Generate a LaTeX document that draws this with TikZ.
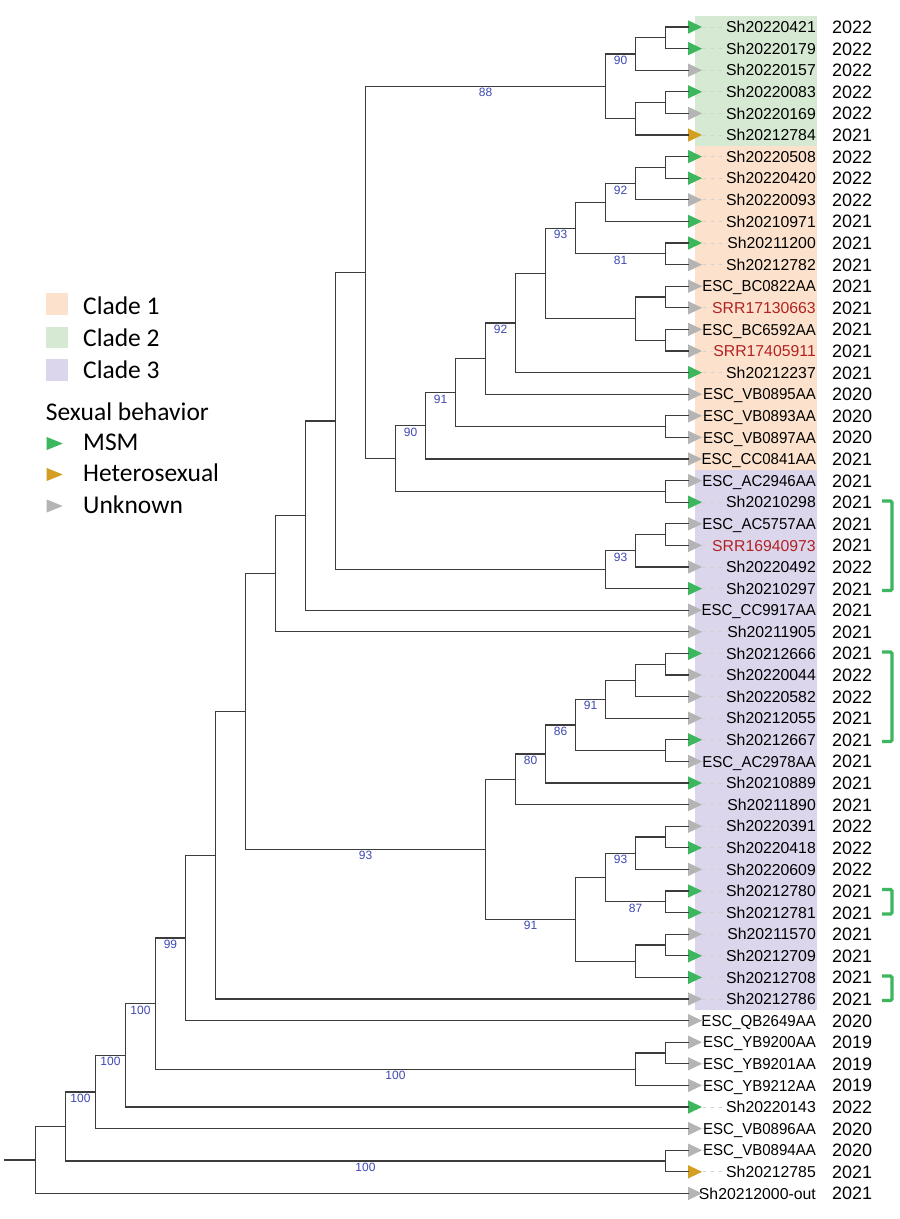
\documentclass[tikz,border=0pt]{standalone}
\usepackage{fontspec}
\setmainfont{Liberation Sans}
\newfontfamily\legfont{Carlito}
\usetikzlibrary{calc}
\definecolor{treeline}{RGB}{60,60,60}
\definecolor{msm}{RGB}{61,183,93}
\definecolor{het}{RGB}{212,158,35}
\definecolor{unk}{RGB}{180,180,180}
\definecolor{bsblue}{RGB}{63,72,180}
\definecolor{srred}{RGB}{178,34,34}
\definecolor{cladeA}{RGB}{252,226,204}
\definecolor{cladeB}{RGB}{214,234,211}
\definecolor{cladeC}{RGB}{219,214,236}
\newcommand\escl[1]{\scalebox{0.95}[1]{#1}}
\tikzset{
  br/.style={draw=treeline, line width=1.3pt, line cap=rect},
  tiplab/.style={anchor=base east, inner sep=0pt, font=\fontsize{15.8}{17}\selectfont},
  yearlab/.style={anchor=base west, inner sep=0pt, font=\fontsize{18}{20}\selectfont},
  bs/.style={anchor=north, inner sep=0pt, yshift=-2pt, text=bsblue, font=\fontsize{12}{13}\selectfont},
  leader/.style={draw=black!18, line width=0.8pt, dash pattern=on 3pt off 5pt},
  brk/.style={draw=msm, line width=3.2pt, rounded corners=1.5pt},
  leg/.style={anchor=base west, inner sep=0pt, font=\legfont\fontsize{25.5}{28}\selectfont},
}
\newcommand\inode[4]{%
  \path ($(#3)!0.5!(#4)$) coordinate (#1m);
  \pgfmathsetmacro\xx{665.5-30*#2}
  \coordinate (#1) at (\xx,0 |- #1m);
  \draw[br] (#1) |- (#3);
  \draw[br] (#1) |- (#4);
}
\newcommand\bsl[3]{\node[bs] (bs#2) at ($(#1 |- #2)!0.5!(#2)$) {#3};}
\begin{document}
\begin{tikzpicture}[x=1pt,y=-1pt]
\useasboundingbox (0,0) rectangle (900,1219);
\fill[white] (0,0) rectangle (900,1219);
% clade backgrounds
\fill[cladeB] (695,16.2) rectangle (817,145.8);
\fill[cladeA] (695,145.8) rectangle (817,469.8);
\fill[cladeC] (695,469.8) rectangle (817,1009.8);
% tips
\foreach \i/\nm/\yr/\c/\tc in {
1/Sh20220421/2022/msm/black,
2/Sh20220179/2022/msm/black,
3/Sh20220157/2022/unk/black,
4/Sh20220083/2022/msm/black,
5/Sh20220169/2022/unk/black,
6/Sh20212784/2021/het/black,
7/Sh20220508/2022/msm/black,
8/Sh20220420/2022/msm/black,
9/Sh20220093/2022/unk/black,
10/Sh20210971/2021/msm/black,
11/Sh20211200/2021/msm/black,
12/Sh20212782/2021/unk/black,
13/{\escl{ESC\_BC0822AA}}/2021/unk/black,
14/SRR17130663/2021/unk/srred,
15/{\escl{ESC\_BC6592AA}}/2021/unk/black,
16/SRR17405911/2021/unk/srred,
17/Sh20212237/2021/msm/black,
18/{\escl{ESC\_VB0895AA}}/2020/unk/black,
19/{\escl{ESC\_VB0893AA}}/2020/unk/black,
20/{\escl{ESC\_VB0897AA}}/2020/unk/black,
21/{\escl{ESC\_CC0841AA}}/2021/unk/black,
22/{\escl{ESC\_AC2946AA}}/2021/unk/black,
23/Sh20210298/2021/msm/black,
24/{\escl{ESC\_AC5757AA}}/2021/unk/black,
25/SRR16940973/2021/unk/srred,
26/Sh20220492/2022/unk/black,
27/Sh20210297/2021/msm/black,
28/{\escl{ESC\_CC9917AA}}/2021/unk/black,
29/Sh20211905/2021/unk/black,
30/Sh20212666/2021/msm/black,
31/Sh20220044/2022/unk/black,
32/Sh20220582/2022/unk/black,
33/Sh20212055/2021/unk/black,
34/Sh20212667/2021/msm/black,
35/{\escl{ESC\_AC2978AA}}/2021/unk/black,
36/Sh20210889/2021/msm/black,
37/Sh20211890/2021/unk/black,
38/Sh20220391/2022/unk/black,
39/Sh20220418/2022/msm/black,
40/Sh20220609/2022/unk/black,
41/Sh20212780/2021/msm/black,
42/Sh20212781/2021/msm/black,
43/Sh20211570/2021/unk/black,
44/Sh20212709/2021/msm/black,
45/Sh20212708/2021/msm/black,
46/Sh20212786/2021/unk/black,
47/{\escl{ESC\_QB2649AA}}/2020/unk/black,
48/{\escl{ESC\_YB9200AA}}/2019/unk/black,
49/{\escl{ESC\_YB9201AA}}/2019/unk/black,
50/{\escl{ESC\_YB9212AA}}/2019/unk/black,
51/Sh20220143/2022/msm/black,
52/{\escl{ESC\_VB0896AA}}/2020/unk/black,
53/{\escl{ESC\_VB0894AA}}/2020/unk/black,
54/Sh20212785/2021/het/black,
55/Sh20212000-out/2021/unk/black}{
  \pgfmathsetmacro\yy{27+21.6*(\i-1)}
  \coordinate (p\i) at (688,\yy);
  \node[tiplab, text=\tc] (l\i) at (816,\yy+5.6) {\nm};
  \draw[leader] ([xshift=15pt]p\i) -- (l\i.west |- p\i);
  \node[yearlab] (y\i) at (832,\yy+6.4) {\yr};
  \fill[\c] (p\i) ++(0,-6.7) -- ++(14,6.7) -- ++(-14,6.7) -- cycle;
}
% tree
\inode{n12}{0}{p1}{p2}
\inode{n123}{1}{n12}{p3}
\inode{n45}{0}{p4}{p5}
\inode{n456}{1}{n45}{p6}
\inode{c2}{2}{n123}{n456}
\inode{n78}{0}{p7}{p8}
\inode{n789}{1}{n78}{p9}
\inode{n710}{2}{n789}{p10}
\inode{n1112}{0}{p11}{p12}
\inode{nA}{3}{n710}{n1112}
\inode{n1314}{0}{p13}{p14}
\inode{n1516}{0}{p15}{p16}
\inode{n1316}{1}{n1314}{n1516}
\inode{nB}{4}{nA}{n1316}
\inode{nB17}{5}{nB}{p17}
\inode{nC}{6}{nB17}{p18}
\inode{n1920}{0}{p19}{p20}
\inode{nD}{7}{nC}{n1920}
\inode{nE}{8}{nD}{p21}
\inode{nG}{0}{p22}{p23}
\inode{nF}{9}{nE}{nG}
\inode{nH}{10}{c2}{nF}
\inode{nK}{0}{p24}{p25}
\inode{nJ}{1}{nK}{p26}
\inode{nI}{2}{nJ}{p27}
\inode{nL}{11}{nH}{nI}
\inode{nM}{12}{nL}{p28}
\inode{nN}{13}{nM}{p29}
\inode{q1}{0}{p30}{p31}
\inode{q2}{1}{q1}{p32}
\inode{q3}{2}{q2}{p33}
\inode{q4}{0}{p34}{p35}
\inode{q5}{3}{q3}{q4}
\inode{q6}{4}{q5}{p36}
\inode{q7}{5}{q6}{p37}
\inode{r1}{0}{p38}{p39}
\inode{r2}{1}{r1}{p40}
\inode{r3}{0}{p41}{p42}
\inode{r4}{2}{r2}{r3}
\inode{r5}{0}{p43}{p44}
\inode{r6}{1}{r5}{p45}
\inode{r7}{3}{r4}{r6}
\inode{nS}{6}{q7}{r7}
\inode{nT}{14}{nN}{nS}
\inode{nU}{15}{nT}{p46}
\inode{nV}{16}{nU}{p47}
\inode{w1}{0}{p48}{p49}
\inode{w2}{1}{w1}{p50}
\inode{nX}{17}{nV}{w2}
\inode{nY}{18}{nX}{p51}
\inode{nZ}{19}{nY}{p52}
\inode{z2}{0}{p53}{p54}
\inode{nAA}{20}{nZ}{z2}
\inode{root}{21}{nAA}{p55}
\coordinate (stem) at (5,0 |- root);
\draw[br] (stem) -- (root);
% bootstrap values
\bsl{c2}{n123}{90}
\bsl{nH}{c2}{88}
\bsl{n710}{n789}{92}
\bsl{nA}{n1112}{81}
\bsl{nB}{nA}{93}
\bsl{nC}{nB17}{92}
\bsl{nE}{nD}{91}
\bsl{nF}{nE}{90}
\bsl{nI}{nJ}{93}
\bsl{q5}{q3}{91}
\bsl{q6}{q5}{86}
\bsl{q7}{q6}{80}
\bsl{r4}{r2}{93}
\bsl{r4}{r3}{87}
\bsl{nS}{r7}{91}
\bsl{nT}{nS}{93}
\bsl{nX}{nV}{99}
\bsl{nY}{nX}{100}
\bsl{nX}{w2}{100}
\bsl{nZ}{nY}{100}
\bsl{nAA}{nZ}{100}
\bsl{nAA}{z2}{100}
% brackets
\draw[brk] (882,501) -- (892,501) -- (892,590.5) -- (882,590.5);
\draw[brk] (882,652) -- (892,652) -- (892,741.5) -- (882,741.5);
\draw[brk] (882,889.5) -- (892,889.5) -- (892,914) -- (882,914);
\draw[brk] (882,976) -- (892,976) -- (892,1000.5) -- (882,1000.5);
% legend
\fill[cladeA] (45.7,293.3) rectangle (68.3,315);
\fill[cladeB] (45.7,326.7) rectangle (68.3,348.3);
\fill[cladeC] (45.7,359) rectangle (68.3,380.7);
\node[leg] (lg1) at (83,314) {Clade 1};
\node[leg] (lg2) at (83,346.7) {Clade 2};
\node[leg] (lg3) at (83,378.5) {Clade 3};
\node[leg] (lgs) at (45.7,420) {Sexual behavior};
\fill[msm] (46.7,437) -- (62.7,443.5) -- (46.7,450) -- cycle;
\fill[het] (46.7,468) -- (62.7,474.5) -- (46.7,481) -- cycle;
\fill[unk] (46.7,499.5) -- (62.7,506) -- (46.7,512.5) -- cycle;
\node[leg] (lgm) at (83,450) {MSM};
\node[leg] (lgh) at (83,481.7) {Heterosexual};
\node[leg] (lgu) at (83,513) {Unknown};
\end{tikzpicture}
\end{document}
